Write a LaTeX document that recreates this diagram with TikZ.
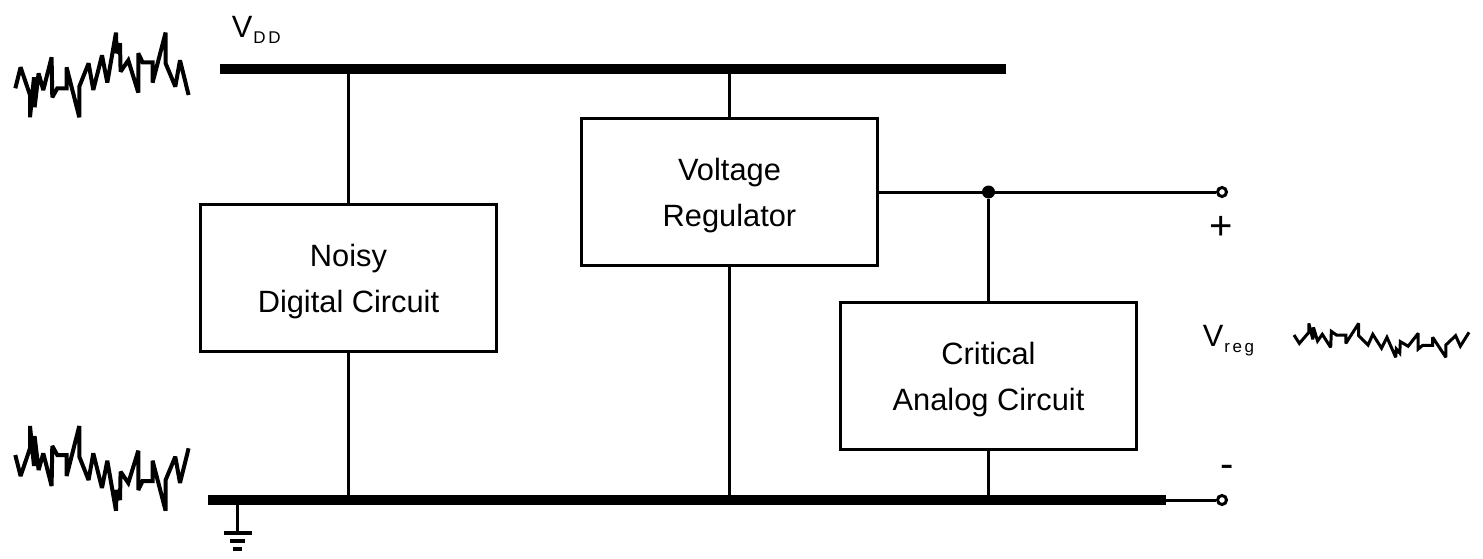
\documentclass[tikz,border=0pt]{standalone}
\usepackage{fontspec}
\setmainfont{Liberation Sans}
\newcommand{\subtext}[1]{\kern0.5pt\raisebox{-3.25pt}{\fontsize{8.5}{10}\selectfont\addfontfeature{LetterSpace=15}#1}}
\newcommand{\blockstrut}{\rule{0pt}{14.5pt}}
\begin{document}
\begin{tikzpicture}[x=0.5pt, y=-0.5pt,
        wire/.style={line width=1.5pt},
        block/.style={draw, line width=1.5pt, minimum width=148pt, minimum height=73.5pt, align=center, inner sep=0pt, font=\fontsize{15.4}{23}\selectfont},
        railbar/.style={fill=black, inner sep=0pt, minimum height=5pt},
        groundbar/.style={fill=black, inner sep=0pt},
        label/.style={inner sep=0pt, font=\fontsize{15.4}{18}\selectfont},
        sign/.style={inner sep=0pt, font=\fontsize{20}{24}\selectfont},
        noise/.pic={
            \draw [miter limit=3] plot coordinates {(0,0) (5.3,-21) (14.7,6.7) (14.7,29) (18.7,-11) (19.3,19) (23.3,-15) (28,1.7) (36.3,-31) (37,9) (42,0) (51.3,0) (51.3,-21) (64,29) (64,-1.7) (73.3,-25) (78,1.7) (86.7,-33) (92,-5.7) (100.7,-55.7) (101.3,-35) (104.7,-45) (105.3,-16.7) (113,-28) (123,4.3) (123,-35) (127.3,-26) (137.3,-26) (137.3,-5.7) (150.3,-55.7) (150.3,-25) (160,-1.7) (164.7,-28) (173.3,6.7)};
        }]
        \useasboundingbox (0,0) rectangle (1483,558);
        \node [railbar, minimum width=393pt] (vddrail) at (613,68.5) {};
        \node [railbar, minimum width=479pt] (gndrail) at (687,500) {};
        \node [block] (digital) at (348.5,278) {\blockstrut Noisy\\Digital Circuit};
        \node [block] (regulator) at (729.5,192) {\blockstrut Voltage\\Regulator};
        \node [block] (analog) at (988.5,376) {\blockstrut Critical\\Analog Circuit};
        \coordinate (tap) at (analog.north |- regulator.east);
        \node [circle, draw, line width=1.5pt, inner sep=0pt, minimum size=4.5pt] (vout) at (1222,192) {};
        \node [circle, draw, line width=1.5pt, inner sep=0pt, minimum size=4.5pt] (vret) at (1222,500) {};
        \node [circle, fill=black, inner sep=0pt, minimum size=6.5pt] (dot) at (tap) {};
        \draw [wire] (digital.north) -- (digital.north |- vddrail.south);
        \draw [wire] (digital.south) -- (digital.south |- gndrail.north);
        \draw [wire] (regulator.north) -- (regulator.north |- vddrail.south);
        \draw [wire] (regulator.south) -- (regulator.south |- gndrail.north);
        \draw [wire] (regulator.east) -- (vout);
        \draw [wire] (dot) -- (analog.north);
        \draw [wire] (analog.south) -- (analog.south |- gndrail.north);
        \draw [wire] (gndrail.east) -- (vret);
        \node [groundbar, minimum width=14pt, minimum height=2pt] (gndone) at (237.5,533) {};
        \node [groundbar, minimum width=7.5pt, minimum height=2pt] (gndtwo) at (237.5,541) {};
        \node [groundbar, minimum width=4.5pt, minimum height=2pt] (gndthree) at (237.5,549) {};
        \draw [wire] (gndone.north) -- (gndone.north |- gndrail.south);
        \node [label, anchor=base west] (vdd) at (231.5,37) {V\subtext{DD}};
        \node [label, anchor=base west] (vreg) at (1202.5,346) {V\subtext{reg}};
        \node [sign] (plus) at (1221,228) {+};
        \node [sign] (minus) at (1227.5,471) {-};
        \pic [line width=2pt] at (15.3,88.3) {noise};
        \pic [line width=2pt, yscale=-1] at (15.3,455) {noise};
        \pic [line width=1.5pt, yscale=-0.4, xscale=1.01] at (1294,335) {noise};
    \end{tikzpicture}
\end{document}
